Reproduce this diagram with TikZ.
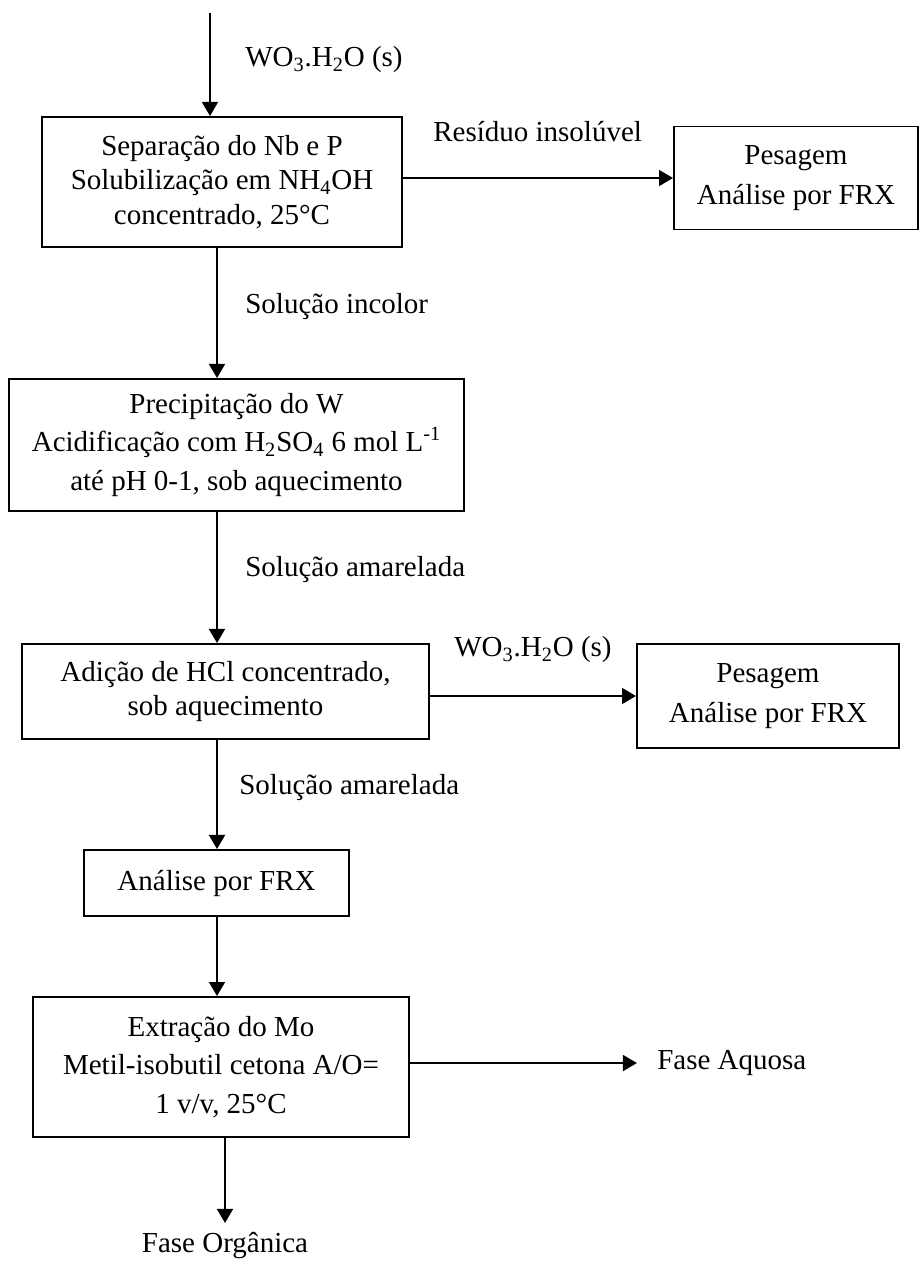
\documentclass[tikz,border=0pt]{standalone}
\usepackage{fontspec}
\setmainfont{Liberation Serif}
\usetikzlibrary{arrows.meta}

\begin{document}
\begin{tikzpicture}[x=0.02cm, y=-0.02cm,
          flow/.style={-{Triangle[length=8pt, width=9pt]}, line width=1.3pt},
          stage/.style={draw, line width=1.1pt, align=center, inner sep=0pt},
          lbl/.style={anchor=west, inner sep=0pt},
          font=\fontsize{16.5}{19.5}\selectfont,
        ]
          \useasboundingbox (0,0) rectangle (920,1262);
          \coordinate (src)   at (210, 13);
          \coordinate (spine) at (217,  0);
          % main column
          \node[stage, minimum width=7.2cm, minimum height=2.6cm] (b1) at (222,182)
            {Separação do Nb e P\\Solubilização em NH\textsubscript{4}OH\\concentrado, 25°C};
          \node[stage, minimum width=9.1cm, minimum height=2.64cm] (b2) at (236.5,445)
            {Precipitação do W\\[2.5pt]Acidificação com H\textsubscript{2}SO\textsubscript{4} 6 mol L\textsuperscript{-1}\\[2.5pt]até pH 0-1, sob aquecimento};
          \node[stage, minimum width=8.14cm, minimum height=1.9cm] (b3) at (225.5,691.5)
            {Adição de HCl concentrado,\\sob aquecimento};
          \node[stage, minimum width=5.3cm, minimum height=1.32cm] (b5) at (216.5,883)
            {Análise por FRX};
          \node[stage, minimum width=7.52cm, minimum height=2.8cm] (b6) at (221,1067)
            {Extração do Mo\\[2.5pt]Metil-isobutil cetona A/O=\\[2.5pt]1 v/v, 25°C};
          % side boxes
          \node[stage, minimum width=4.88cm, minimum height=2.06cm] (p1) at (796,178)
            {Pesagem\\[3.5pt]Análise por FRX};
          \node[stage, minimum width=5.24cm, minimum height=2.08cm] (p2) at (768,696)
            {Pesagem\\[3.5pt]Análise por FRX};
          \node[anchor=west, inner sep=0pt, inner xsep=0.4cm] (fa) at (637,1063) {Fase Aquosa};
          \node[anchor=north, inner sep=0pt, inner ysep=0.18cm] (fo) at (225,1223) {Fase Orgânica};
          % connectors
          \draw[flow] (src) -- (src |- b1.north);
          \draw[flow] (b1.east |- p1) -- (p1.west);
          \draw[flow] (b1.south -| spine) -- (b2.north -| spine);
          \draw[flow] (b2.south -| spine) -- (b3.north -| spine);
          \draw[flow] (b3.east |- p2) -- (p2.west);
          \draw[flow] (b3.south -| spine) -- (b5.north -| spine);
          \draw[flow] (b5.south -| spine) -- (b6.north -| spine);
          \draw[flow] (b6.east |- fa) -- (fa.west);
          \draw[flow] (b6.south -| fo) -- (fo.north);
          % labels
          \node[lbl] (l1) at (245, 60) {WO\textsubscript{3}.H\textsubscript{2}O (s)};
          \node[lbl] (l2) at (433,132) {Resíduo insolúvel};
          \node[lbl] (l3) at (245,307) {Solução incolor};
          \node[lbl] (l4) at (245,570) {Solução amarelada};
          \node[lbl] (l5) at (454,650) {WO\textsubscript{3}.H\textsubscript{2}O (s)};
          \node[lbl] (l6) at (239,788) {Solução amarelada};
        \end{tikzpicture}
\end{document}
